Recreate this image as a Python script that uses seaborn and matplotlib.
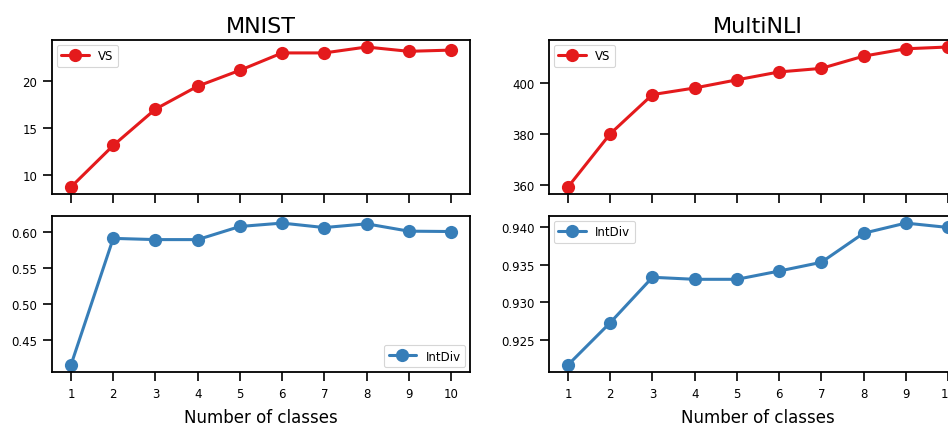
import numpy as np
import pandas as pd
import matplotlib
matplotlib.use('Agg')
import matplotlib.pyplot as plt
import seaborn as sns

# Values
classes = [1, 2, 3, 4, 5, 6, 7, 8, 9, 10]
mnist_vs = [8.73, 13.15, 17.02, 19.46, 21.15, 23.0, 23.0, 23.63, 23.17, 23.3]
mnist_intdiv = [0.4155, 0.591, 0.5893, 0.5893, 0.6075, 0.6122, 0.606, 0.6112, 0.601, 0.6005]
nli_vs = [359.1, 380.0, 395.4, 398.0, 401.2, 404.3, 405.7, 410.5, 413.4, 414.1]
nli_intdiv = [0.92167, 0.92729, 0.93333, 0.93306, 0.93306, 0.93416, 0.93532, 0.93919, 0.94054, 0.93996]

sns.set_theme(style='ticks', context='paper')
plt.rcParams['font.family'] = ['DejaVu Sans']
plt.rcParams['text.color'] = 'black'
plt.rcParams['axes.labelcolor'] = 'black'
plt.rcParams['xtick.color'] = 'black'
plt.rcParams['ytick.color'] = 'black'

colors = sns.color_palette('Set1')
red, blue = colors[0], colors[1]

fig = plt.figure(figsize=(9.48, 4.27), dpi=100)
W, H = 948, 427

def box(x0, y0, x1, y1):
    return [x0 / W, 1 - y1 / H, (x1 - x0) / W, (y1 - y0) / H]

ax_mv = fig.add_axes(box(52, 41, 470, 195))
ax_mi = fig.add_axes(box(52, 217, 470, 373))
ax_nv = fig.add_axes(box(549, 41, 967, 195))
ax_ni = fig.add_axes(box(549, 217, 967, 373))

df = pd.DataFrame({'classes': classes, 'mnist_vs': mnist_vs, 'mnist_intdiv': mnist_intdiv,
                   'nli_vs': nli_vs, 'nli_intdiv': nli_intdiv})

panels = [
    (ax_mv, 'mnist_vs', red, 'VS', 'upper left'),
    (ax_mi, 'mnist_intdiv', blue, 'IntDiv', 'lower right'),
    (ax_nv, 'nli_vs', red, 'VS', 'upper left'),
    (ax_ni, 'nli_intdiv', blue, 'IntDiv', 'upper left'),
]

for ax, col, c, lab, loc in panels:
    sns.lineplot(data=df, x='classes', y=col, ax=ax, color=c, marker='o',
                 markersize=9.5, markeredgewidth=0, linewidth=2.2, label=lab)
    ax.legend(loc=loc, fontsize=8.5, handlelength=2.3, borderaxespad=0.4)
    ax.set_xticks(classes)
    ax.set_ylabel('')
    ax.set_xlabel('')
    ax.tick_params(axis='both', labelsize=8.5, length=6.5, width=1.2, pad=4)
    for s in ax.spines.values():
        s.set_linewidth(1.3)
        s.set_color('black')

for ax in (ax_mv, ax_nv):
    ax.tick_params(axis='x', labelbottom=False)

ax_mv.set_yticks([10, 15, 20])
ax_mi.set_yticks([0.45, 0.50, 0.55, 0.60])
ax_nv.set_yticks([360, 380, 400])
ax_ni.set_yticks([0.925, 0.930, 0.935, 0.940])

ax_mv.set_title('MNIST', fontsize=16, pad=6)
ax_nv.set_title('MultiNLI', fontsize=16, pad=6)
ax_mi.set_xlabel('Number of classes', fontsize=12, labelpad=6)
ax_ni.set_xlabel('Number of classes', fontsize=12, labelpad=6)

fig.savefig('out.png', dpi=100)
